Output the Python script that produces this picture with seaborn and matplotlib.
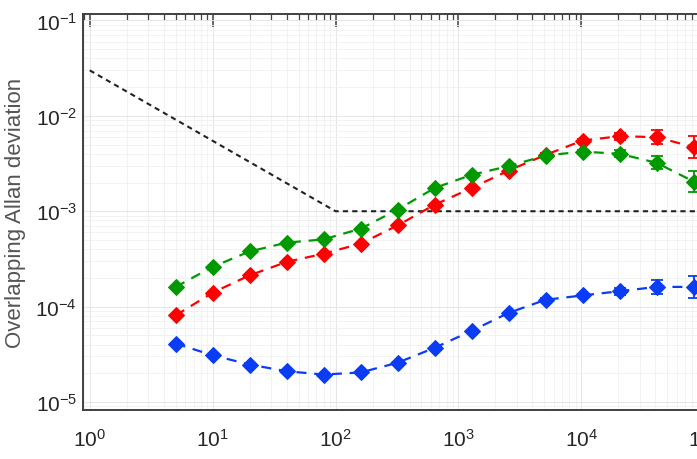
import numpy as np
import pandas as pd
import matplotlib
matplotlib.use("Agg")
import matplotlib.pyplot as plt
import matplotlib.ticker as mticker
import seaborn as sns

# averaging times (s)
tau = [5, 10, 20, 40, 80, 160, 320, 640, 1280, 2560, 5120, 10240, 20480, 40960, 81920]

# overlapping Allan deviation for the three channels
adev_red = [8.1e-5, 1.40e-4, 2.13e-4, 2.94e-4, 3.59e-4, 4.57e-4, 7.10e-4, 1.17e-3,
            1.75e-3, 2.67e-3, 3.90e-3, 5.51e-3, 6.12e-3, 5.98e-3, 4.71e-3]
adev_green = [1.61e-4, 2.61e-4, 3.79e-4, 4.68e-4, 5.07e-4, 6.56e-4, 1.04e-3, 1.75e-3,
              2.41e-3, 2.97e-3, 3.84e-3, 4.22e-3, 4.00e-3, 3.22e-3, 2.05e-3]
adev_blue = [4.10e-5, 3.09e-5, 2.47e-5, 2.10e-5, 1.94e-5, 2.04e-5, 2.58e-5, 3.70e-5,
             5.57e-5, 8.59e-5, 1.18e-4, 1.31e-4, 1.45e-4, 1.61e-4, 1.61e-4]

# error bar half-width in decades (grows with tau)
err_dex = [0.005, 0.005, 0.005, 0.005, 0.005, 0.008, 0.008, 0.01,
           0.01, 0.012, 0.015, 0.02, 0.035, 0.07, 0.115]

# requirement / reference line
ref_tau = [1, 100, 1e5]
ref_adev = [3e-2, 1e-3, 1e-3]

sns.set_theme(style="white")
plt.rcParams['font.family'] = ['Liberation Sans', 'DejaVu Sans']
plt.rcParams['mathtext.default'] = 'regular'

fig = plt.figure(figsize=(6.97, 4.6), dpi=100)
ax = fig.add_axes([0.1187, 0.1065, 0.9017, 0.8609])

err = np.array(err_dex)
series = [("red", adev_red, "#ff0000"),
          ("green", adev_green, "#009a00"),
          ("blue", adev_blue, "#0a3cf5")]

for name, vals, col in series:
    df = pd.DataFrame({'tau': tau, 'adev': vals})
    y = np.array(vals)
    lo = y - y / 10**err
    hi = y * 10**err - y
    ax.errorbar(tau, vals, yerr=[lo, hi], fmt='none', ecolor=col,
                elinewidth=1.3, capsize=4, capthick=1.3, zorder=3)
    sns.lineplot(data=df, x='tau', y='adev', ax=ax, color=col, lw=1.6,
                 marker='D', markersize=8.5, markeredgecolor=col,
                 linestyle=(0, (4.5, 3.5)), zorder=4)

ref = pd.DataFrame({'tau': ref_tau, 'adev': ref_adev})
sns.lineplot(data=ref, x='tau', y='adev', ax=ax, color='#222222', lw=1.5,
             linestyle=(0, (2.5, 2)), zorder=2)

ax.set_xscale('log')
ax.set_yscale('log')
ax.set_xlim(10**-0.057, 10**5.057)
ax.set_ylim(10**-5.084, 10**-0.932)

ax.xaxis.set_major_locator(mticker.LogLocator(base=10, numticks=20))
ax.yaxis.set_major_locator(mticker.LogLocator(base=10, numticks=20))
ax.xaxis.set_minor_locator(mticker.LogLocator(base=10, subs=np.arange(2, 10), numticks=100))
ax.yaxis.set_minor_locator(mticker.LogLocator(base=10, subs=np.arange(2, 10), numticks=100))
ax.xaxis.set_minor_formatter(mticker.NullFormatter())
ax.yaxis.set_minor_formatter(mticker.NullFormatter())

ax.grid(True, which='major', color='#e6e6e6', lw=0.7)
ax.grid(True, which='minor', color='#f0f0f0', lw=0.6)
ax.set_axisbelow(True)

for s in ax.spines.values():
    s.set_color('#404040')
    s.set_linewidth(1.4)
    s.set_visible(True)

ax.tick_params(which='both', direction='in', top=True, right=True, colors='#404040',
               labelcolor='#262626', labelsize=15)
ax.tick_params(which='major', length=9, width=1.1)
ax.tick_params(which='minor', length=4.5, width=0.9)
ax.tick_params(axis='x', pad=13)
ax.tick_params(axis='y', pad=4)

ax.set_ylabel('Overlapping Allan deviation', fontsize=16, color='#555555', labelpad=7)
ax.set_xlabel('Averaging time (s)', fontsize=16, color='#555555', labelpad=8)

fig.savefig('out.png', dpi=100)
